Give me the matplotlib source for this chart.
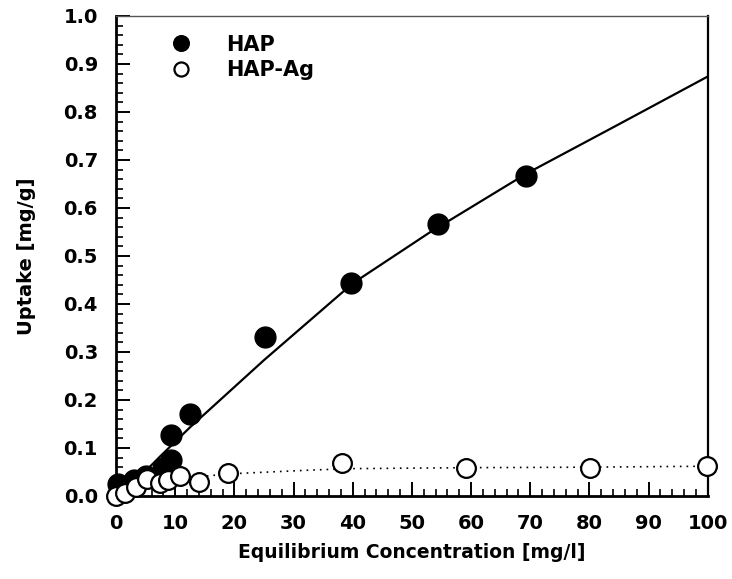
import matplotlib
matplotlib.use("Agg")
import matplotlib.pyplot as plt
from matplotlib.ticker import MultipleLocator

# measured points
hap_x = [0.3, 3, 5, 8, 9.3, 9.3, 12.5, 25.2, 39.7, 54.4, 69.3]
hap_y = [0.024, 0.034, 0.042, 0.058, 0.075, 0.128, 0.170, 0.331, 0.444, 0.567, 0.667]

ag_x = [0, 1.5, 3.4, 5.2, 7.4, 8.8, 10.8, 14, 18.9, 38.1, 59.1, 80.1, 99.8]
ag_y = [0.0, 0.007, 0.019, 0.035, 0.027, 0.033, 0.042, 0.029, 0.048, 0.068, 0.058, 0.058, 0.062]

# fitted curves
fit_hap_x = [0, 2.5, 5, 7.5, 12.5, 25, 40, 53, 69.4, 84.6, 100]
fit_hap_y = [0.02, 0.032, 0.052, 0.083, 0.143, 0.283, 0.443, 0.549, 0.672, 0.772, 0.874]

fit_ag_x = [0, 5, 10, 14, 19, 33, 40, 60, 80, 100]
fit_ag_y = [0.0, 0.022, 0.034, 0.040, 0.046, 0.054, 0.057, 0.059, 0.060, 0.062]

plt.rcParams["font.family"] = ["DejaVu Sans"]
plt.rcParams["font.weight"] = "bold"

fig = plt.figure(figsize=(7.32, 5.79), dpi=100)
ax = fig.add_axes([0.1585, 0.1434, 0.8085, 0.829])

ax.plot(fit_hap_x, fit_hap_y, color="black", lw=1.6, zorder=2)
ax.plot(fit_ag_x, fit_ag_y, color="black", lw=1.2, ls=(0, (1, 3)), zorder=2)

ax.plot(hap_x, hap_y, ls="none", marker="o", ms=15, mfc="black", mec="black",
        label="HAP", zorder=3, clip_on=False)
ax.plot(ag_x, ag_y, ls="none", marker="o", ms=13.5, mfc="white", mec="black",
        mew=1.6, label="HAP-Ag", zorder=4, clip_on=False)

ax.set_xlim(0, 100)
ax.set_ylim(0, 1.0)
ax.xaxis.set_major_locator(MultipleLocator(10))
ax.xaxis.set_minor_locator(MultipleLocator(2))
ax.yaxis.set_major_locator(MultipleLocator(0.1))
ax.yaxis.set_minor_locator(MultipleLocator(0.02))
ax.yaxis.set_major_formatter(lambda v, p: f"{v:.1f}")

ax.tick_params(which="major", direction="in", length=10, width=1.4,
               labelsize=14, pad=13, top=False, right=False)
ax.tick_params(which="minor", direction="in", length=5, width=1.2,
               top=False, right=False)
for lab in ax.get_xticklabels() + ax.get_yticklabels():
    lab.set_fontweight("bold")

ax.spines["left"].set_linewidth(2.0)
ax.spines["bottom"].set_linewidth(2.0)
ax.spines["right"].set_linewidth(1.6)
ax.spines["top"].set_linewidth(1.0)
ax.spines["top"].set_color("#555555")

ax.set_xlabel("Equilibrium Concentration [mg/l]", fontsize=13.5,
              fontweight="bold", labelpad=7)
ax.set_ylabel("Uptake [mg/g]", fontsize=14, fontweight="bold", labelpad=20)

leg = ax.legend(loc="upper left", bbox_to_anchor=(0.06, 1.0), frameon=False,
                fontsize=15, markerscale=0.75, handlelength=1.0,
                handletextpad=1.7, labelspacing=0.25, numpoints=1)
for t in leg.get_texts():
    t.set_fontweight("bold")

fig.savefig("out.png", dpi=100)
